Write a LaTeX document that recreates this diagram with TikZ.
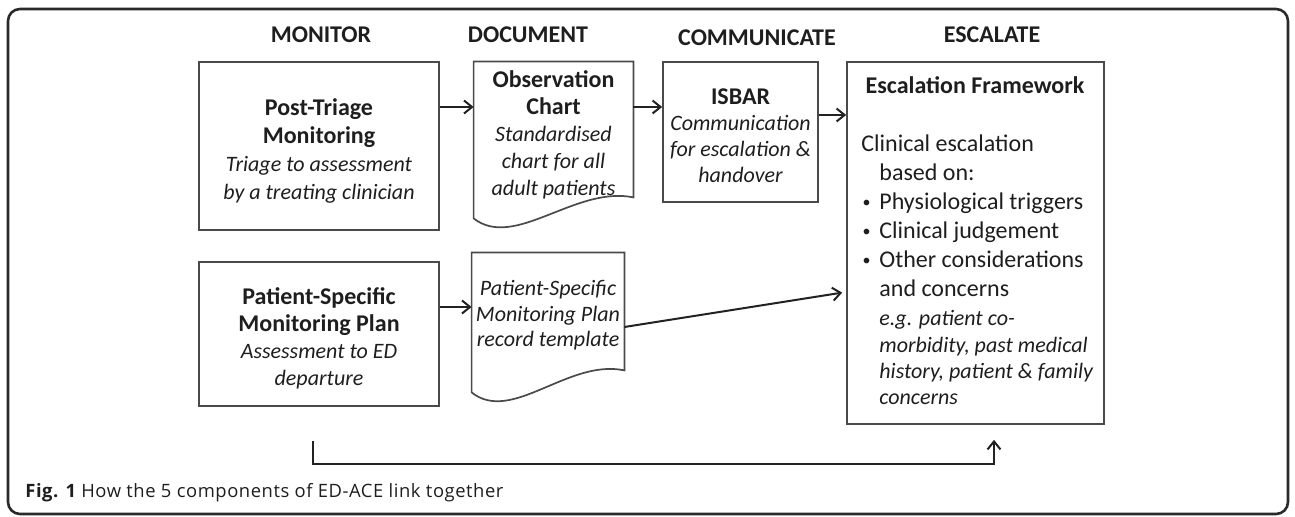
\documentclass[tikz,border=0pt]{standalone}
\usepackage{fontspec}
\setmainfont{Carlito}
\newfontfamily\capfont{Open Sans}
\usetikzlibrary{arrows.meta,calc}
\definecolor{txt}{HTML}{1E1E1E}
\definecolor{boxgray}{HTML}{4A4A4A}
\definecolor{linec}{HTML}{222222}
\definecolor{framec}{HTML}{2A2A2A}
\newcommand\bxb[1]{{\fontsize{12}{14}\selectfont\bfseries #1}}
\newcommand\bxi[1]{{\itshape #1}}
\newcommand\bxit[1]{{\fontsize{11}{13.2}\selectfont\itshape #1}}
\newcommand\blt{\makebox[9pt][l]{\hspace{0.6pt}{\fontsize{8}{8}\selectfont\raisebox{0.9pt}{•}}}}
\begin{document}
\begin{tikzpicture}[x=0.5pt,y=-0.5pt,
  boxline/.style={draw=boxgray, line width=0.85pt},
  plainbox/.style={boxline, rectangle, inner sep=0pt},
  shapeonly/.style={rectangle, inner sep=0pt},
  arr/.style={draw=linec, line width=1pt, -{Straight Barb[length=4pt,width=6.5pt,line width=1pt]}},
  hdr/.style={font=\fontsize{12}{14}\selectfont\bfseries, text=txt, inner sep=0pt},
  body/.style={align=center, text=txt, inner sep=0pt}]
\useasboundingbox (0,0) rectangle (1295,517);
% frame
\draw[draw=framec, line width=1.3pt, rounded corners=6pt] (8,9) rectangle (1288,514);
% headers
\node[hdr] (hMon) at (321,35) {MONITOR};
\node[hdr] (hDoc) at (528,35) {DOCUMENT};
\node[hdr] (hCom) at (757,38) {COMMUNICATE};
\node[hdr] (hEsc) at (992,35) {ESCALATE};
% boxes
\node[plainbox, minimum width=120pt, minimum height=84pt] (pt) at (319,146) {};
\node[plainbox, minimum width=120pt, minimum height=72pt] (ps) at (319,334) {};
\node[plainbox, minimum width=77.5pt, minimum height=70pt] (isbar) at (740.5,132) {};
\node[plainbox, minimum width=128.5pt, minimum height=181pt] (esc) at (975.5,243) {};
\node[shapeonly, minimum width=79.5pt, minimum height=67.5pt] (obs) at (553.5,129.5) {};
\node[shapeonly, minimum width=76pt, minimum height=58.5pt] (psd) at (548,311.5) {};
% document shapes
\draw[boxline] (obs.north west) -- (obs.north east) -- (obs.south east)
  .. controls ($(obs.south east)+(-58,-12)$) and ($(obs.south west)+(41,53)$) .. ($(obs.south west)+(0,21)$) -- cycle;
\draw[boxline] (psd.north west) -- (psd.north east) -- (psd.south east)
  .. controls ($(psd.south east)+(-56,-12)$) and ($(psd.south west)+(40,54)$) .. ($(psd.south west)+(0,22)$) -- cycle;
% texts
\node[body, font=\fontsize{11}{14}\selectfont] (ptT) at (319,150.5)
  {\bxb{Post-Triage}\\\bxb{Monitoring}\\\bxi{Triage to assessment}\\\bxi{by a treating clinician}};
\node[body, font=\fontsize{11}{13.5}\selectfont] (obsT) at (553.5,135)
  {\bxb{Observation}\\\bxb{Chart}\\\bxi{Standardised}\\\bxi{chart for all}\\\bxi{adult patients}};
\node[body, font=\fontsize{11}{13}\selectfont] (isT) at (740.5,136)
  {\bxb{ISBAR}\\\bxi{Communication}\\\bxi{for escalation \&}\\\bxi{handover}};
\node[body, font=\fontsize{11}{13.5}\selectfont] (psT) at (319,338)
  {\bxb{Patient-Specific}\\\bxb{Monitoring Plan}\\\bxi{Assessment to ED}\\\bxi{departure}};
\node[body, font=\fontsize{11}{12.75}\selectfont] (psdT) at (548,315.5)
  {\bxi{Patient-Specific}\\\bxi{Monitoring Plan}\\\bxi{record template}};
\node[body, font=\fontsize{12}{14}\selectfont\bfseries] (escTitle) at (975,85) {Escalation Framework};
\node[body, align=left, anchor=west, font=\fontsize{12}{13.2}\selectfont] (escBody) at (861,270)
  {Clinical escalation\\[1.3pt]
   \hspace*{9pt}based on:\\[1.3pt]
   \blt Physiological triggers\\[1.3pt]
   \blt Clinical judgement\\[1.3pt]
   \blt Other considerations\\[1.3pt]
   \hspace*{9pt}and concerns\\[1.3pt]
   \hspace*{9pt}\bxit{e.g. patient co-}\\
   \hspace*{9pt}\bxit{morbidity, past medical}\\
   \hspace*{9pt}\bxit{history, patient \& family}\\
   \hspace*{9pt}\bxit{concerns}};
% connectors
\draw[arr] ([yshift=19.5pt]pt.east) -- ([yshift=19.5pt]pt.east -| obs.west);
\draw[arr] ([yshift=11.25pt]obs.east) -- ([yshift=11.25pt]obs.east -| isbar.west);
\draw[arr] ([yshift=8.5pt]isbar.east) -- ([yshift=8.5pt]isbar.east -| esc.west);
\draw[arr] ([yshift=13.5pt]ps.east) -- ([yshift=13.5pt]ps.east -| psd.west);
\draw[arr, shorten >=2pt] ([yshift=-7.75pt]psd.east) -- ([yshift=-24.5pt]esc.west);
\coordinate (loopstart) at (313,441);
\draw[arr, shorten >=7.5pt] (loopstart) -- ++(0,23) -| ([xshift=9.25pt]esc.south);
% caption
\node[anchor=west, inner sep=0pt, text=txt] (cap) at (25,493)
  {\capfont\addfontfeatures{LetterSpace=3}\fontsize{9.2}{11}\selectfont{\bfseries Fig. 1} How the 5 components of ED-ACE link together};
\end{tikzpicture}
\end{document}
